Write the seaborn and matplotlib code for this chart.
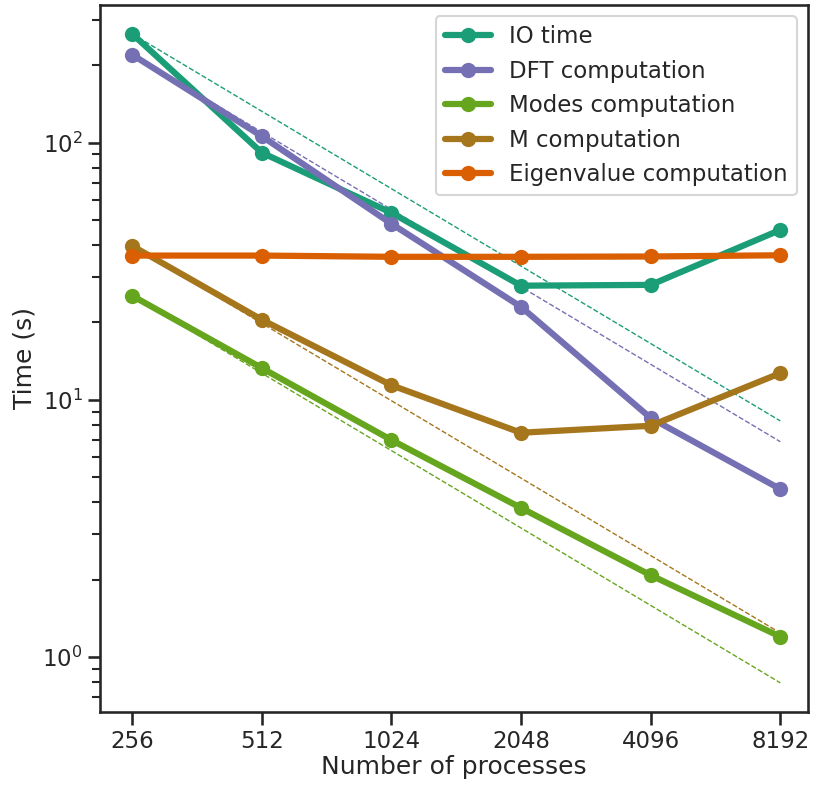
import numpy as np
import pandas as pd
import matplotlib
matplotlib.use("Agg")
import matplotlib.pyplot as plt
import seaborn as sns

procs = [256, 512, 1024, 2048, 4096, 8192]
io_time = [265, 91.5, 53.4, 27.8, 28.0, 45.8]
dft_time = [220, 106, 48.4, 23.0, 8.5, 4.5]
modes_time = [25.4, 13.3, 6.98, 3.80, 2.08, 1.20]
m_time = [39.7, 20.5, 11.4, 7.45, 7.93, 12.7]
eig_time = [36.4, 36.4, 36.0, 36.0, 36.1, 36.5]

series_names = ["IO time", "DFT computation", "Modes computation",
                "M computation", "Eigenvalue computation"]
series_vals = [io_time, dft_time, modes_time, m_time, eig_time]
colors = ["#1b9e77", "#7570b3", "#66a61e", "#a6761d", "#d95f02"]
ideal_for = [True, True, True, True, False]

sns.set_theme(context="talk", style="ticks")

rows = []
for name, vals in zip(series_names, series_vals):
    for p, v in zip(procs, vals):
        rows.append({"procs": p, "time": v, "series": name})
df = pd.DataFrame(rows)

fig, ax = plt.subplots(figsize=(8.14, 7.87), dpi=100)
fig.subplots_adjust(left=0.123, right=0.993, top=0.994, bottom=0.095)

# ideal scaling reference lines
for name, vals, c, use in zip(series_names, series_vals, colors, ideal_for):
    if not use:
        continue
    ideal = [vals[0] * procs[0] / p for p in procs]
    ax.plot(procs, ideal, linestyle="--", color=c, lw=1.0, zorder=1)

sns.lineplot(data=df, x="procs", y="time", hue="series",
             hue_order=series_names, palette=colors, marker="o",
             markersize=11, markeredgewidth=0, linewidth=4.5, ax=ax,
             zorder=3)

ax.set_xscale("log", base=2)
ax.set_yscale("log")
ax.set_xticks(procs)
ax.set_xticklabels([str(p) for p in procs])
ax.minorticks_off()
ax.set_yscale("log")
ax.set_ylim(0.61, 344)
ax.set_xlim(256 / 2 ** 0.247, 8192 * 2 ** 0.216)
ax.set_xticks(procs)
ax.set_xticklabels([str(p) for p in procs])
ax.xaxis.set_minor_locator(matplotlib.ticker.NullLocator())
ax.set_xlabel("Number of processes", labelpad=2)
ax.set_ylabel("Time (s)")

leg = ax.legend(loc="upper right", frameon=True)
leg.set_title(None)

plt.savefig("out.png", dpi=100)
